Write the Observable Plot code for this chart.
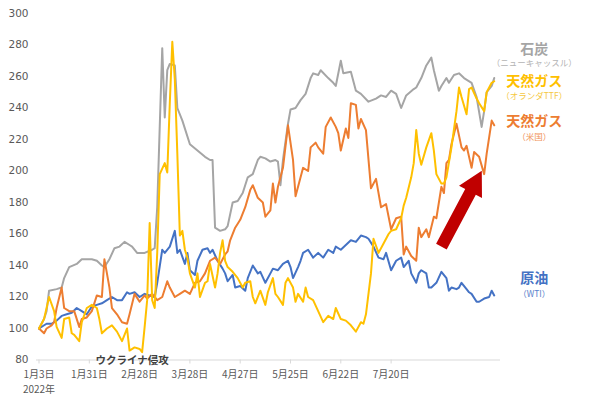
<!DOCTYPE html>
<html><head><meta charset="utf-8">
<script src="https://cdn.jsdelivr.net/npm/d3@7"></script>
<script src="https://cdn.jsdelivr.net/npm/@observablehq/plot@0.6"></script>
<style>body{margin:0;background:#fff;} svg{display:block;}</style>
</head><body><div id="chart"></div>
<script>
// trading-day index (0 = 2022-01-03) and index value (2022-01-03 = 100)
const tickDays = [0, 20, 40, 60, 80, 100, 120, 140];
const tickLabels = ["1月3日", "1月31日", "2月28日", "3月28日", "4月27日", "5月25日", "6月22日", "7月20日"];
const yearLabel = [{day: 0, text: "2022年"}];
const yTicks = [80, 100, 120, 140, 160, 180, 200, 220, 240, 260, 280, 300];

const coal = [[0,100],[2,106],[3,111],[4,124],[7,125],[9,126],[10,132],[12,139],[15,141],[17,144],[21,144],[23,143],[25,140],[26,139],[28,144],[30,151],[32,152],[34,155],[36,153],[37,152],[39,148],[42,148],[45,150],[46,151],[47,177],[48,228],[49,278],[50,234],[51,264],[52,268],[54,267],[55,240],[57,232],[60,217],[63,213],[66,209],[68,207],[69,207],[70,164],[72,162],[74,163],[75,165],[77,180],[79,181],[81,186],[83,196],[85,198],[87,207],[88,209],[90,208],[92,206],[94,207],[95,206],[96,191],[97,207],[99,230],[100,239],[102,240],[104,245],[106,249],[108,259],[109,262],[111,261],[112,264],[115,259],[117,256],[118,254],[120,270],[121,262],[124,263],[126,251],[128,249],[131,244],[134,246],[136,248],[138,247],[140,251],[142,249],[144,240],[146,248],[149,252],[150,253],[152,259],[154,267],[156,272],[157,264],[159,251],[160,254],[162,259],[163,256],[165,261],[167,262],[169,259],[172,256],[174,247],[176,228],[177,238],[178,250],[180,254],[181,259]];

const wti = [[0,100],[3,103],[5,103],[7,105],[9,108],[11,109],[13,110],[15,113],[17,111],[19,109],[21,114],[23,115],[25,116],[27,118],[29,120],[31,118],[33,118],[35,123],[36,122],[38,123],[40,120],[42,122],[44,121],[46,120],[47,129],[49,150],[50,148],[52,152],[54,162],[55,148],[56,150],[58,141],[59,148],[60,137],[62,134],[63,143],[65,150],[67,151],[68,148],[69,150],[71,143],[73,138],[74,135],[75,130],[77,134],[78,126],[80,127],[82,124],[83,132],[85,140],[87,135],[88,136],[90,129],[92,135],[93,138],[95,137],[97,141],[99,143],[100,139],[101,132],[103,139],[104,143],[105,148],[107,150],[109,145],[111,148],[113,145],[115,150],[117,148],[118,152],[120,150],[122,153],[124,156],[126,155],[128,159],[130,158],[131,157],[133,152],[135,145],[137,144],[138,148],[140,137],[142,143],[144,145],[145,139],[147,143],[148,135],[150,129],[151,135],[152,137],[154,135],[155,126],[156,126],[158,129],[160,136],[162,132],[163,124],[164,126],[166,125],[167,126],[168,129],[170,125],[171,123],[172,122],[174,117],[175,117],[177,119],[179,120],[180,124],[181,121]];

const henryHub = [[0,100],[2,97],[3,100],[5,102],[6,104],[7,113],[9,126],[10,113],[12,111],[14,111],[16,101],[17,106],[19,107],[21,111],[23,121],[25,120],[26,144],[28,126],[29,113],[31,109],[33,104],[35,103],[36,109],[38,122],[40,117],[42,121],[43,119],[45,122],[47,118],[49,120],[51,130],[52,126],[54,120],[56,122],[58,124],[60,122],[62,129],[64,130],[66,135],[68,143],[70,145],[72,141],[74,147],[75,149],[76,156],[78,164],[80,169],[82,177],[84,188],[85,191],[87,183],[89,180],[90,171],[92,175],[93,192],[94,180],[95,190],[97,202],[99,229],[101,207],[102,184],[104,196],[105,202],[107,200],[108,215],[110,218],[111,215],[113,211],[114,228],[116,234],[118,228],[119,224],[120,213],[122,227],[123,221],[124,243],[126,242],[127,227],[128,233],[130,226],[132,189],[134,195],[136,177],[138,179],[140,163],[142,170],[144,171],[145,147],[146,152],[148,146],[150,143],[151,164],[152,158],[154,163],[155,158],[157,171],[158,170],[160,190],[161,186],[162,205],[163,207],[164,217],[166,230],[168,215],[169,213],[170,216],[172,202],[173,212],[175,209],[177,198],[178,211],[180,232],[181,229]];

const ttf = [[0,100],[2,106],[3,113],[4,120],[6,111],[7,101],[9,94],[10,106],[12,107],[13,97],[14,96],[16,92],[17,104],[19,113],[21,115],[23,113],[24,106],[25,97],[27,100],[29,102],[31,98],[33,92],[34,96],[35,100],[36,86],[38,88],[40,87],[41,85],[42,101],[43,118],[44,167],[45,118],[46,113],[47,148],[48,198],[50,205],[51,199],[52,243],[53,282],[54,258],[55,211],[56,159],[57,162],[58,150],[59,145],[60,135],[62,126],[63,135],[64,120],[66,129],[67,130],[68,141],[70,126],[71,135],[72,148],[73,156],[74,143],[75,139],[77,136],[79,132],[81,126],[82,129],[84,130],[85,120],[86,116],[88,124],[90,115],[91,123],[93,132],[94,122],[95,120],[97,115],[98,129],[99,132],[101,126],[102,117],[103,122],[105,117],[106,126],[107,120],[109,118],[111,111],[113,104],[115,108],[117,106],[118,113],[120,106],[122,105],[124,102],[126,98],[128,104],[129,103],[130,109],[132,135],[133,157],[135,148],[137,154],[139,160],[140,162],[142,163],[144,170],[145,178],[146,183],[148,196],[149,205],[150,226],[151,211],[152,204],[154,215],[156,224],[157,213],[158,198],[160,192],[161,192],[162,196],[164,215],[166,238],[167,253],[168,247],[170,236],[171,252],[172,253],[174,246],[175,243],[177,238],[178,250],[180,256],[181,257]];

const invasion = [{day: 37, value: 80, text: "ウクライナ侵攻"}];
const arrowTail = [{day: 160, value: 152}];

const series = [
  {name: "石炭", sub: "（ニューキャッスル）", color: "#a5a5a5", sub_color: "#b4b4b4", data: coal, dy: -29, subDy: -15},
  {name: "原油", sub: "（WTI）", color: "#4472c4", sub_color: "#5b82cc", data: wti, dy: -17, subDy: -1},
  {name: "天然ガス", sub: "（米国）", color: "#ed7d31", sub_color: "#f0935a", data: henryHub, dy: -4, subDy: 12},
  {name: "天然ガス", sub: "（オランダTTF）", color: "#ffc000", sub_color: "#f5c842", data: ttf, dy: 0, subDy: 15}
];

const blockArrow = {
  draw(context, l) {
    const sw = 6, hw = 13, hl = 24;
    context.moveTo(-sw, 0);
    context.lineTo(-sw, hl - l);
    context.lineTo(-hw, hl - l);
    context.lineTo(0, -l);
    context.lineTo(hw, hl - l);
    context.lineTo(sw, hl - l);
    context.lineTo(sw, 0);
    context.closePath();
  }
};

const cjk = "'Noto Sans CJK JP', 'Noto Sans', sans-serif";
const marks = [
  Plot.ruleY([80], {stroke: "#d9d9d9", strokeWidth: 1}),
  Plot.axisY({ticks: yTicks, tickSize: 0, tickPadding: 8, fontSize: 10.5, fill: "#595959", fontFamily: "'DejaVu Sans', sans-serif", label: null}),
  Plot.axisX({ticks: tickDays, tickFormat: d => tickLabels[tickDays.indexOf(d)], tickSize: 4, stroke: "#d9d9d9", tickPadding: 7, fontSize: 10, fill: "#595959", label: null}),
  Plot.text(yearLabel, {x: "day", text: "text", frameAnchor: "bottom", dy: 29.5, lineAnchor: "middle", fontSize: 10, fill: "#595959"})
];
for (const s of series) {
  marks.push(Plot.line(s.data, {x: d => d[0], y: d => d[1], stroke: s.color, strokeWidth: 2, strokeLinejoin: "round"}));
}
for (const s of series) {
  const last = [s.data[s.data.length - 1]];
  marks.push(Plot.text(last, {x: d => d[0], y: d => d[1], text: () => s.name, dx: 40, dy: s.dy, fill: s.color, fontWeight: "bold", fontSize: 14, textAnchor: "middle"}));
  marks.push(Plot.text(last, {x: d => d[0], y: d => d[1], text: () => s.sub, dx: 40, dy: s.subDy, fill: s.sub_color, fontSize: 8.5, textAnchor: "middle"}));
}
marks.push(Plot.text(invasion, {x: "day", y: "value", text: "text", dy: 1, fill: "#404040", fontWeight: "bold", fontSize: 10.5}));
marks.push(Plot.vector(arrowTail, {x: "day", y: "value", length: 86, rotate: 28, anchor: "start", shape: blockArrow, fill: "#c00000", stroke: "none"}));

const chart = Plot.plot({
  width: 600, height: 395,
  marginLeft: 36, marginRight: 100, marginTop: 13, marginBottom: 35.5,
  x: {domain: [-1, 183.5]},
  y: {domain: [80, 300]},
  style: {fontFamily: cjk, background: "#fff", overflow: "visible"},
  marks
});
document.getElementById("chart").append(chart);
</script>
</body></html>
